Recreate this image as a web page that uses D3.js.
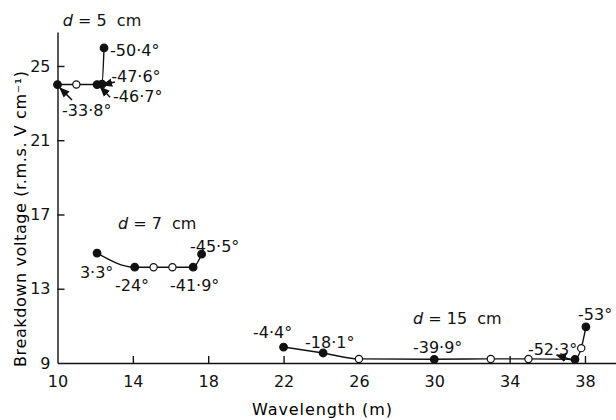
<!DOCTYPE html>
<html>
<head>
<meta charset="utf-8">
<script src="https://cdn.jsdelivr.net/npm/d3@7"></script>
<style>
  html, body { margin: 0; padding: 0; background: #fff; }
  svg { display: block; font-family: "DejaVu Sans", sans-serif; }
  .axis path, .axis line { stroke: #111; stroke-width: 1.4; }
  .axis text { font-size: 16px; fill: #111; font-family: "DejaVu Sans", sans-serif; }
  .lbl { font-size: 16px; fill: #111; }
</style>
</head>
<body>
<svg id="chart" width="616" height="420"></svg>
<script>
// ── Breakdown voltage vs wavelength, three gap spacings ──

const xTicks = [10, 14, 18, 22, 26, 30, 34, 38];
const yTicks = [9, 13, 17, 21, 25];

// d = 5 cm
const d5Wave   = [10, 11, 12.1, 12.36, 12.47];
const d5Volt   = [24.0, 24.0, 24.0, 24.02, 25.97];
const d5Filled = [true, false, true, true, true];

// d = 7 cm
const d7Wave   = [12.1, 14.1, 15.1, 16.1, 17.2, 17.65];
const d7Volt   = [14.92, 14.16, 14.16, 14.16, 14.16, 14.86];
const d7Filled = [true, true, false, false, true, true];

// d = 15 cm
const d15Wave   = [22.0, 24.1, 26.0, 30.0, 33.0, 35.0, 37.47, 37.8, 38.05];
const d15Volt   = [9.86, 9.54, 9.22, 9.2, 9.22, 9.22, 9.2, 9.8, 10.95];
const d15Filled = [true, true, false, true, false, false, true, false, true];

// phase-angle annotations: text, wavelength, voltage (left edge / middle of text)
const angleLabels = [
  ['-50·4°', 12.79, 25.86],
  ['-47·6°', 12.85, 24.41],
  ['-46·7°', 12.95, 23.33],
  ['-33·8°', 10.24, 22.58],
  ['-45·5°', 17.03, 15.25],
  ['3·3°',   11.19, 13.85],
  ['-24°',   13.05, 13.2],
  ['-41·9°', 15.97, 13.2],
  ['-4·4°',  20.38, 10.62],
  ['-18·1°', 23.14, 10.13],
  ['-39·9°', 28.87, 9.81],
  ['-52·3°', 34.97, 9.75],
  ['-53°',   37.63, 11.59],
];

// curve titles: spacing, wavelength, voltage
const curveTitles = [
  ['5',  10.28, 27.48],
  ['7',  13.21, 16.54],
  ['15', 28.87, 11.42],
];

// pointer arrows: [tail wave, tail volt, head wave, head volt]
const arrows = [
  [10.77, 23.17, 10.13, 23.82],
  [13.05, 24.14, 12.40, 23.98],
  [12.79, 23.32, 12.28, 23.87],
  [37.30, 9.16, 36.50, 9.43],
];

const svg = d3.select('#chart');

const x = d3.scaleLinear().domain([10, 39.7]).range([57.5, 617]);
const y = d3.scaleLinear().domain([9, 26.83]).range([363, 32]);

// axes — ticks point inward
svg.append('g')
   .attr('class', 'axis')
   .attr('transform', `translate(0,${y(9)})`)
   .call(d3.axisBottom(x).tickValues(xTicks).tickSizeInner(-7).tickSizeOuter(0).tickPadding(13))
   .call(g => g.selectAll('.tick').filter(d => d === 10).select('line').remove());

svg.append('g')
   .attr('class', 'axis')
   .attr('transform', `translate(${x(10)},0)`)
   .call(d3.axisLeft(y).tickValues(yTicks).tickSizeInner(-7).tickSizeOuter(0).tickPadding(7))
   .call(g => g.selectAll('.tick').filter(d => d === 9).select('line').remove());

// axis titles
svg.append('text')
   .attr('x', 322).attr('y', 409)
   .attr('text-anchor', 'middle')
   .attr('dominant-baseline', 'central')
   .attr('font-size', 16)
   .attr('textLength', 140).attr('lengthAdjust', 'spacing')
   .text('Wavelength (m)');

svg.append('text')
   .attr('transform', 'translate(20,219) rotate(-90)')
   .attr('text-anchor', 'middle')
   .attr('dominant-baseline', 'central')
   .attr('font-size', 16)
   .attr('textLength', 296).attr('lengthAdjust', 'spacing')
   .text('Breakdown voltage (r.m.s. V cm⁻¹)');

// curves and points
const line = d3.line()
  .x(d => x(d[0]))
  .y(d => y(d[1]))
  .curve(d3.curveMonotoneX);

const series = [
  [d5Wave, d5Volt, d5Filled],
  [d7Wave, d7Volt, d7Filled],
  [d15Wave, d15Volt, d15Filled],
];

series.forEach(([w, v, f]) => {
  const pts = w.map((d, i) => [d, v[i], f[i]]);
  svg.append('path')
     .datum(pts)
     .attr('d', line)
     .attr('fill', 'none')
     .attr('stroke', '#111')
     .attr('stroke-width', 1.4);

  svg.selectAll(null)
     .data(pts)
     .enter()
     .append('circle')
     .attr('cx', d => x(d[0]))
     .attr('cy', d => y(d[1]))
     .attr('r', d => d[2] ? 3.8 : 3.6)
     .attr('fill', d => d[2] ? '#111' : '#fff')
     .attr('stroke', '#111')
     .attr('stroke-width', 1.2);
});

// arrowheads
svg.append('defs').append('marker')
   .attr('id', 'head')
   .attr('viewBox', '0 0 10 10')
   .attr('refX', 9).attr('refY', 5)
   .attr('markerWidth', 7).attr('markerHeight', 7)
   .attr('orient', 'auto')
   .append('path')
   .attr('d', 'M0,1 L10,5 L0,9 Z')
   .attr('fill', '#111');

svg.selectAll(null)
   .data(arrows)
   .enter()
   .append('line')
   .attr('x1', d => x(d[0])).attr('y1', d => y(d[1]))
   .attr('x2', d => x(d[2])).attr('y2', d => y(d[3]))
   .attr('stroke', '#111')
   .attr('stroke-width', 1.5)
   .attr('marker-end', 'url(#head)');

// angle labels
svg.selectAll(null)
   .data(angleLabels)
   .enter()
   .append('text')
   .attr('class', 'lbl')
   .attr('x', d => x(d[1]))
   .attr('y', d => y(d[2]))
   .attr('dominant-baseline', 'central')
   .text(d => d[0]);

// curve titles
curveTitles.forEach(([dist, w, v]) => {
  const t = svg.append('text')
     .attr('class', 'lbl')
     .attr('x', x(w))
     .attr('y', y(v))
     .attr('dominant-baseline', 'central')
     .attr('font-size', 17);
  t.append('tspan').attr('font-style', 'italic').text('d');
  t.append('tspan').attr('xml:space', 'preserve').text(` = ${dist}  cm`);
});
</script>
</body>
</html>
